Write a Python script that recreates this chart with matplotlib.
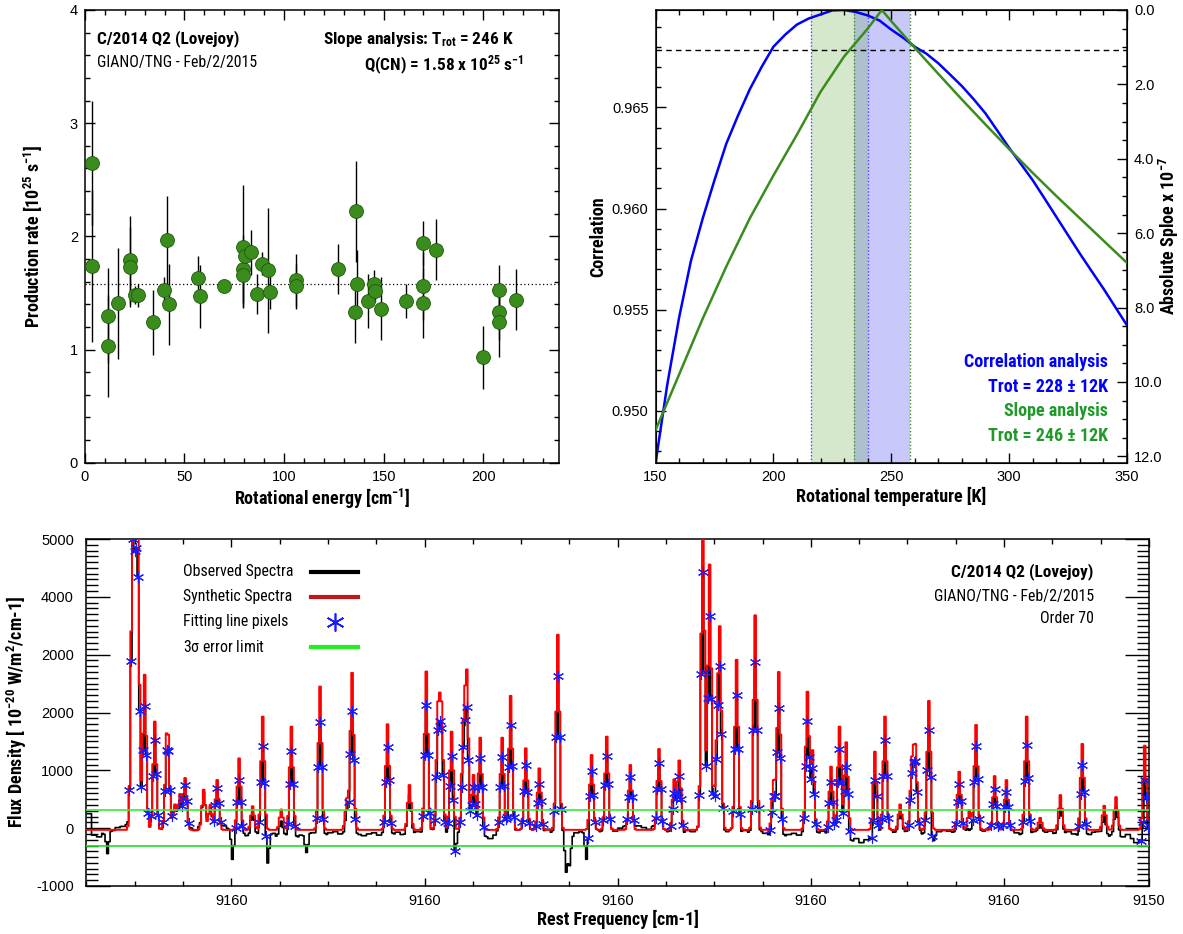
import numpy as np
import matplotlib
matplotlib.use("Agg")
import matplotlib.pyplot as plt
from matplotlib import font_manager as fm
from matplotlib.ticker import MultipleLocator, FixedLocator, FixedFormatter, FormatStrFormatter
from matplotlib.lines import Line2D

plt.rcParams["font.family"] = ["Liberation Sans", "DejaVu Sans"]
plt.rcParams["mathtext.default"] = "regular"


def condensed_font():
    """Narrow face for labels; fall back to a plain sans if none is installed."""
    entries = fm.fontManager.ttflist
    names = {f.name for f in entries}
    for n in ["Liberation Sans Narrow", "Roboto Condensed", "Open Sans Condensed",
              "Noto Sans Condensed", "Arial Narrow", "DejaVu Sans Condensed"]:
        if n in names:
            return dict(family=[n, "DejaVu Sans"]), 1.0
    for base in ["Noto Sans", "Open Sans", "DejaVu Sans", "Roboto"]:
        for f in entries:
            if f.name == base and "condensed" in str(f.stretch):
                return dict(family=[base, "DejaVu Sans"], stretch=f.stretch), 1.0
    return dict(family=["Liberation Sans", "DejaVu Sans"]), 0.86


COND, FS = condensed_font()

# --- production rate per line (top left) ---
energy = [3.8, 3.8, 11.5, 11.5, 16.6, 22.7, 22.7, 25.2, 26.7, 34.2, 39.5, 41.5, 42.4,
          56.7, 57.7, 70.1, 79.3, 79.3, 79.3, 80.6, 83.5, 86.5, 88.8, 91.9, 93.0,
          106.0, 106.0, 127.0, 136.0, 136.5, 135.6, 142.0, 145.2, 145.5, 148.6,
          161.4, 170.0, 170.0, 170.0, 176.3, 199.8, 208.0, 208.0, 208.0, 216.6]
qrate = [2.65, 1.74, 1.30, 1.03, 1.41, 1.79, 1.73, 1.48, 1.48, 1.24, 1.53, 1.97, 1.40,
         1.63, 1.47, 1.56, 1.91, 1.71, 1.66, 1.83, 1.86, 1.49, 1.76, 1.70, 1.51,
         1.61, 1.56, 1.71, 2.22, 1.58, 1.33, 1.43, 1.58, 1.52, 1.36,
         1.43, 1.94, 1.56, 1.41, 1.88, 0.93, 1.53, 1.33, 1.24, 1.44]
qerr = [0.55, 0.67, 0.42, 0.45, 0.49, 0.39, 0.35, 0.08, 0.10, 0.29, 0.11, 0.39, 0.36,
        0.20, 0.28, 0.05, 0.54, 0.30, 0.28, 0.10, 0.20, 0.18, 0.10, 0.55, 0.15,
        0.23, 0.20, 0.22, 0.45, 0.30, 0.27, 0.24, 0.12, 0.10, 0.28,
        0.15, 0.20, 0.30, 0.31, 0.27, 0.28, 0.22, 0.25, 0.31, 0.27]
q_cn = 1.58
t_slope_label = 246

# --- correlation / slope vs rotational temperature (top right) ---
t_corr = [150, 155, 160, 165, 170, 175, 180, 185, 190, 195, 200, 205, 210, 215, 220,
          225, 230, 235, 240, 245, 250, 255, 260, 265, 270, 275, 280, 285, 290, 295,
          300, 305, 310, 315, 320, 325, 330, 335, 340, 345, 350]
correlation = [0.9474, 0.9513, 0.9546, 0.9574, 0.9595, 0.9614, 0.9632, 0.9646, 0.9659,
               0.9670, 0.9680, 0.9686, 0.9691, 0.9694, 0.9696, 0.9698, 0.96982, 0.96972,
               0.96955, 0.96930, 0.96885, 0.96845, 0.96800, 0.96765, 0.96718, 0.96662,
               0.96605, 0.96540, 0.96470, 0.96385, 0.96300, 0.96220, 0.96140, 0.96050,
               0.95959, 0.95868, 0.95777, 0.95690, 0.95604, 0.95513, 0.95422]
t_slope = [150, 160, 170, 180, 190, 200, 210, 220, 230, 240, 246, 250, 255, 260, 270,
           280, 290, 300, 310, 320, 330, 340, 350]
abs_slope = [11.3, 9.8, 8.3, 6.9, 5.6, 4.45, 3.35, 2.2, 1.25, 0.5, 0.0, 0.30, 0.66, 1.02,
             1.72, 2.41, 3.08, 3.74, 4.38, 5.0, 5.6, 6.2, 6.8]
corr_threshold = 0.96784
corr_trot, corr_unc = 228, 12
slope_trot, slope_unc = 246, 12

# --- spectrum, order 70 (bottom) ---
line_pos = [0.969, 1.03, 1.08, 1.211, 1.398, 1.646, 1.702, 1.832, 1.936, 2.039, 2.418,
            2.557, 2.696, 3.143, 3.441, 3.648, 4.041, 4.228, 4.834, 5.387, 5.491, 6.248,
            6.677, 7.043, 7.284, 7.366, 7.547, 7.801, 7.872, 8.008, 8.147, 8.596, 8.789,
            9.114, 9.375, 9.747, 10.46, 10.776, 11.253, 11.859, 12.164, 12.288, 12.758,
            12.894, 13.027, 13.116, 13.447, 13.841, 14.234, 14.331, 14.917, 15.035,
            15.429, 15.58, 15.739, 16.325, 16.538, 16.857, 17.085, 17.168, 17.443,
            18.071, 18.292, 18.416, 18.803, 19.052, 19.478, 19.755, 20.155, 20.638,
            21.066, 21.308, 21.9]
line_peak = [5600, 3200, 3374, 2681, 1872, 1063, 1000, 433, 606, 889, 693,
             433, 862, 1236, 408, 1958, 352, 1785, 2478, 520, 2709, 1825,
             775, 2738, 1958, 1958, 1698, 1554, 2564, 948, 1594, 1594, 2317,
             1410, 1063, 3374, 1294, 1612, 1121, 1398, 861, 1190, 5600,
             4586, 1092, 3374, 2941, 3710, 832, 2721, 2374, 1352,
             1092, 1785, 1514, 1352, 1958, 439, 1092, 1340, 2229,
             1005, 341, 1814, 930, 861, 1958, 208, 601, 1485,
             416, 566, 1456]
dip_pos = [0.424, 3.01, 3.737, 4.565, 7.63, 9.927, 10.01, 10.36, 16.28, 17.5, 18.29, 21.87]
dip_depth = [-380, -420, -500, -250, -550, -650, -500, -450, -350, -250, -250, -400]
# observed continuum, one value per 0.1 step
obs_cont = [250, -120, -150, -90, -60, -40, 10, 30, 60, 150,
            40, 20, -30, 0, 30, -20, 10, 50, 20, -10, 30, 0, -40, 20, 60, 30, -20, 10, 40, 0,
            -120, -150, -100, -130, -60, -110, -150, -120, -90, -140,
            -160, -130, -100, -150, -120, -170, -80, -100, -140, -110,
            -80, -60, -100, -120, -90, -140, -110, -130, -100, -80,
            -120, -90, -60, -100, -70, -110, -50, -80, -60, -90,
            -60, -40, -80, -50, -100, -90, -30, -60, -120, -80,
            -50, -70, -150, -180, -120, -60, -40, -70, -50, -30,
            -40, -60, -30, -80, -50, -20, -70, -60, -40, -90,
            -120, -80, -60, -100, -50, -30, -60, -40, -20, -50,
            0, 30, -10, 20, 40, 10, -20, 30, 0, -30,
            -60, -90, -50, -80, -40, -60, -30, -50, -20, 0,
            -40, -20, -60, -30, -50, -80, -40, -70, -100, -60,
            -90, -120, -140, -100, -130, -110, -90, -120, -80, -60,
            -60, -80, -50, -90, -70, -60, -100, -150, -220, -180,
            -250, -200, -160, -90, -60, -40, -30, -70, -50, -60,
            -60, -30, -50, -100, -80, -120, -60, -40, -50, -70,
            -40, -20, -60, -80, -30, -50, -20, -40, -60, -30,
            -60, -40, -80, -110, -130, -90, -60, -100, -70, -50,
            -90, -120, -80, -60, -100, -130, -90, -110, -70, -60,
            -100, -140, -120, -90, -150, -110, -180, -250, -200, -150]
synth_base = -30
obs_scale = 0.8
err_limit = 315
x_span = 22
freq_ticks = [3, 7, 11, 15, 19, 22]
freq_labels = ["9160", "9160", "9160", "9160", "9160", "9150"]
flux_ticks = [-1000, 0, 1000, 2000, 3000, 4000, 5000]
flux_labels = ["-1000", "0", "1000", "2000", "2000", "4000", "5000"]

GREEN = "#3a8c1c"
AXL = 13 * FS     # axis titles
BOLD = 12.4 * FS  # bold annotations
REG = 11.4 * FS   # regular annotations

fig = plt.figure(figsize=(11.83, 9.34), dpi=100)
ax1 = fig.add_axes([0.0717, 0.5046, 0.4008, 0.4847])
ax2 = fig.add_axes([0.5541, 0.5046, 0.3986, 0.4847])
ax3 = fig.add_axes([0.0731, 0.0514, 0.8981, 0.3715])


def style_ticks(ax, major, minor, **kw):
    ax.tick_params(which="both", direction="in", top=True, right=True,
                   width=1.0, labelsize=10.5, **kw)
    ax.tick_params(which="major", length=major)
    ax.tick_params(which="minor", length=minor)
    for s in ax.spines.values():
        s.set_linewidth(1.1)


# top left: production rates
ax1.errorbar(energy, qrate, yerr=qerr, fmt="none", ecolor="black", elinewidth=1.0, zorder=2)
ax1.plot(energy, qrate, "o", ms=10, mfc=GREEN, mec="#1e5a0c", mew=0.6, zorder=3)
ax1.axhline(q_cn, color="black", ls=(0, (1, 2)), lw=0.9, zorder=1)
ax1.set_xlim(0, 238)
ax1.set_ylim(0, 4)
ax1.xaxis.set_major_locator(MultipleLocator(50))
ax1.xaxis.set_minor_locator(MultipleLocator(10))
ax1.yaxis.set_major_locator(MultipleLocator(1))
ax1.yaxis.set_minor_locator(MultipleLocator(0.2))
style_ticks(ax1, 7, 3.5, pad=5)
ax1.set_xlabel("Rotational energy [cm$^{-1}$]", weight="bold", fontsize=AXL, **COND)
ax1.set_ylabel("Production rate [10$^{25}$ s$^{-1}$]", weight="bold", fontsize=AXL, **COND)
ax1.xaxis.set_label_coords(0.5, -0.053)
ax1.yaxis.set_label_coords(-0.085, 0.5)
ax1.text(0.025, 0.938, "C/2014 Q2 (Lovejoy)", transform=ax1.transAxes,
         weight="bold", fontsize=BOLD, va="center", **COND)
ax1.text(0.025, 0.883, "GIANO/TNG - Feb/2/2015", transform=ax1.transAxes,
         fontsize=REG, va="center", **COND)
ax1.text(0.905, 0.934, "Slope analysis: T$_{rot}$ = %d K" % t_slope_label,
         transform=ax1.transAxes, weight="bold", fontsize=BOLD,
         ha="right", va="center", **COND)
ax1.text(0.925, 0.877, "Q(CN) = %.2f x 10$^{25}$ s$^{-1}$" % q_cn,
         transform=ax1.transAxes, weight="bold", fontsize=BOLD,
         ha="right", va="center", **COND)

# top right: correlation and slope analysis
lo1, hi1 = corr_trot - corr_unc, corr_trot + corr_unc
lo2, hi2 = slope_trot - slope_unc, slope_trot + slope_unc
ax2.axvspan(lo1, hi1, color="#d5e8cb", lw=0, zorder=0)
ax2.axvspan(lo2, hi2, color="#c8c8fa", lw=0, zorder=0)
ax2.axvspan(max(lo1, lo2), min(hi1, hi2), color="#aebfce", lw=0, zorder=0)
for t in (lo1, hi1):
    ax2.axvline(t, color="#4b4bff", ls=(0, (1, 1.5)), lw=1.0, zorder=1)
for t in (lo2, hi2):
    ax2.axvline(t, color="#3f8f2a", ls=(0, (1, 1.5)), lw=1.0, zorder=1)
ax2.axhline(corr_threshold, color="black", ls=(0, (4, 3)), lw=1.0, zorder=2)
ax2.plot(t_corr, correlation, color="#0000ff", lw=1.8, zorder=3)
ax2.set_xlim(150, 350)
ax2.set_ylim(0.94743, 0.96982)
ax2.xaxis.set_major_locator(MultipleLocator(50))
ax2.xaxis.set_minor_locator(MultipleLocator(10))
ax2.yaxis.set_major_locator(MultipleLocator(0.005))
ax2.yaxis.set_minor_locator(MultipleLocator(0.001))
ax2.yaxis.set_major_formatter(FormatStrFormatter("%.3f"))
style_ticks(ax2, 7, 3.5, pad=5)
ax2.tick_params(which="both", right=False)
ax2.set_xlabel("Rotational temperature [K]", weight="bold", fontsize=AXL, **COND)
ax2.set_ylabel("Correlation", weight="bold", fontsize=AXL, **COND)
ax2.xaxis.set_label_coords(0.5, -0.053)
ax2.yaxis.set_label_coords(-0.103, 0.5)

ax2r = ax2.twinx()
ax2r.plot(t_slope, abs_slope, color=GREEN, lw=1.8, zorder=3)
ax2r.set_ylim(12.17, 0)
ax2r.yaxis.set_major_locator(MultipleLocator(2))
ax2r.yaxis.set_minor_locator(MultipleLocator(0.5))
ax2r.yaxis.set_major_formatter(FormatStrFormatter("%.1f"))
ax2r.tick_params(which="both", direction="in", left=False, right=True, width=1.0,
                 labelsize=10.5, pad=5)
ax2r.tick_params(which="major", length=7)
ax2r.tick_params(which="minor", length=3.5)
ax2r.set_ylabel("Absolute Sploe x 10$^{-7}$", weight="bold", fontsize=AXL, **COND)
ax2r.yaxis.set_label_coords(1.064, 0.5)
for i, (txt, col) in enumerate([("Correlation analysis", "#0000ff"),
                                ("Trot = %d \u00b1 %dK" % (corr_trot, corr_unc), "#0000ff"),
                                ("Slope analysis", "#1f9a2a"),
                                ("Trot = %d \u00b1 %dK" % (slope_trot, slope_unc), "#1f9a2a")]):
    ax2.text(0.96, 0.222 - i * 0.054, txt, transform=ax2.transAxes,
             weight="bold", fontsize=13 * FS, color=col, ha="right", va="center", **COND)

# bottom: observed and synthetic spectra
n_pix = 630
du = x_span / n_pix
xpix = (np.arange(n_pix) + 0.5) * du
idx = np.arange(n_pix)
lines = np.zeros(n_pix)
centres = []
for p, h in zip(line_pos, line_peak):
    c = int(round(p / du - 0.5))
    centres.append(c)
    lines += h * np.exp(-0.5 * (idx - c) ** 2)
dips = np.zeros(n_pix)
for p, d in zip(dip_pos, dip_depth):
    c = int(round(p / du - 0.5))
    dips += d * np.exp(-0.5 * ((idx - c) / 0.8) ** 2)
synthetic = synth_base + lines
cont = np.asarray(obs_cont, dtype=float)[np.minimum((xpix / 0.1).astype(int), len(obs_cont) - 1)]
observed = cont + obs_scale * lines + dips

fit_idx = sorted({c + k for c, h in zip(centres, line_peak) if h >= 800
                  for k in (-2, -1, 0, 1, 2) if 0 <= c + k < n_pix})

ax3.plot(xpix, observed, color="black", lw=1.2, drawstyle="steps-mid", zorder=2)
ax3.plot(xpix, synthetic, color="#ff0000", lw=1.4, drawstyle="steps-mid", zorder=3)
ax3.plot(xpix[fit_idx], observed[fit_idx], ls="none", marker=(6, 2, 0), ms=8,
         mec="#1a1aff", mew=0.8, zorder=4)
ax3.axhline(err_limit, color="#33ee33", lw=1.2, zorder=5)
ax3.axhline(-err_limit, color="#22dd22", lw=1.2, zorder=5)
ax3.set_xlim(0, x_span)
ax3.set_ylim(-1000, 5000)
ax3.xaxis.set_major_locator(FixedLocator(freq_ticks))
ax3.xaxis.set_major_formatter(FixedFormatter(freq_labels))
ax3.xaxis.set_minor_locator(MultipleLocator(1))
ax3.yaxis.set_major_locator(FixedLocator(flux_ticks))
ax3.yaxis.set_major_formatter(FixedFormatter(flux_labels))
ax3.yaxis.set_minor_locator(MultipleLocator(100))
ax3.tick_params(which="both", direction="in", top=True, right=True, width=1.0, labelsize=10.5)
ax3.tick_params(axis="x", which="major", length=6, pad=6)
ax3.tick_params(axis="x", which="minor", length=3.5)
ax3.tick_params(axis="y", which="major", length=17, pad=9)
ax3.tick_params(axis="y", which="minor", length=8.5)
for s in ax3.spines.values():
    s.set_linewidth(1.1)
ax3.set_xlabel("Rest Frequency [cm-1]", weight="bold", fontsize=AXL, **COND)
ax3.set_ylabel("Flux Density [ 10$^{-20}$ W/m$^{2}$/cm-1]", weight="bold", fontsize=AXL, **COND)
ax3.xaxis.set_label_coords(0.5, -0.07)
ax3.yaxis.set_label_coords(-0.054, 0.5)

legend_rows = [("Observed Spectra", dict(color="black", lw=3)),
               ("Synthetic Spectra", dict(color="#c0171c", lw=3)),
               ("Fitting line pixels", dict(ls="none", marker=(6, 2, 0), ms=13, mec="#1a1aff", mew=1.2)),
               ("3$\\sigma$ error limit", dict(color="#22ee22", lw=3))]
for i, (txt, kw) in enumerate(legend_rows):
    y = 0.905 - i * 0.072
    ax3.text(0.0905, y, txt, transform=ax3.transAxes, fontsize=REG, va="center", **COND)
    if kw.get("ls") == "none":
        ax3.add_line(Line2D([0.2335], [y], transform=ax3.transAxes, **kw))
    else:
        ax3.add_line(Line2D([0.211, 0.2555], [y, y], transform=ax3.transAxes, **kw))

ax3.text(0.948, 0.905, "C/2014 Q2 (Lovejoy)", transform=ax3.transAxes,
         weight="bold", fontsize=BOLD, ha="right", va="center", **COND)
ax3.text(0.948, 0.835, "GIANO/TNG - Feb/2/2015", transform=ax3.transAxes,
         fontsize=REG, ha="right", va="center", **COND)
ax3.text(0.948, 0.772, "Order 70", transform=ax3.transAxes,
         fontsize=REG, ha="right", va="center", **COND)

fig.savefig("out.png", dpi=100)
